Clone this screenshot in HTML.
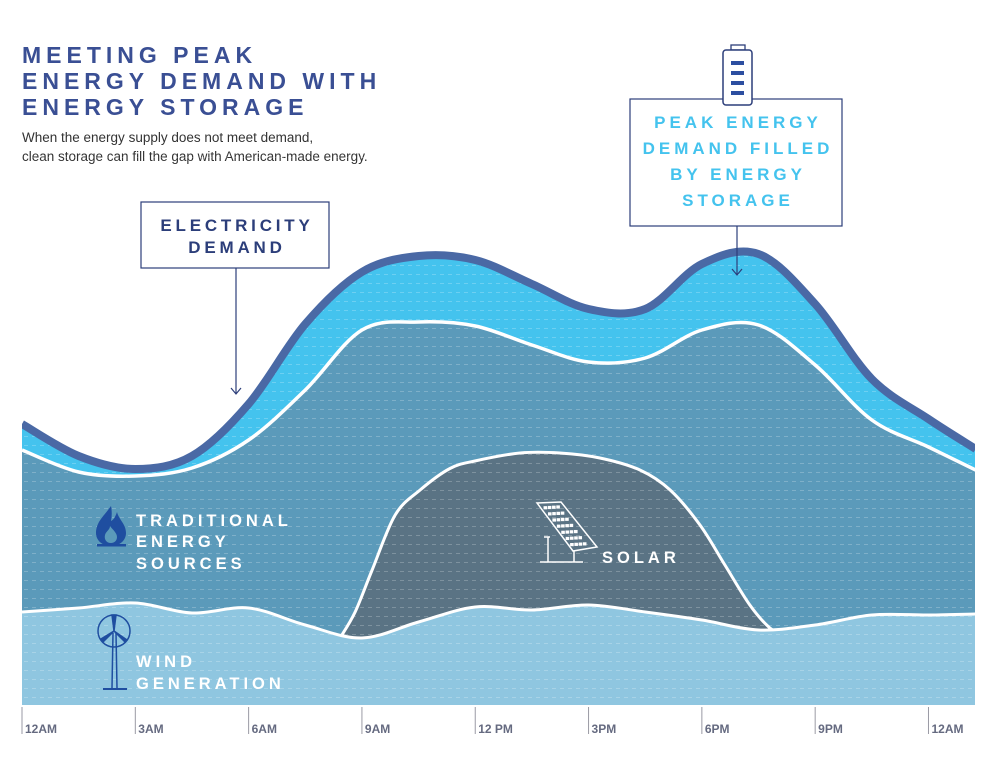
<!DOCTYPE html>
<html><head><meta charset="utf-8"><style>
body{margin:0;background:#fff;}
svg{display:block;font-family:"Liberation Sans",sans-serif;}
</style></head><body>
<svg id="chart" width="996" height="776" viewBox="0 0 996 776">
<defs>
<pattern id="dash" width="8" height="9" patternUnits="userSpaceOnUse">
<line x1="0" y1="4.5" x2="4" y2="4.5" stroke="#fff" stroke-opacity="0.22" stroke-width="1"/>
</pattern>
<clipPath id="plotclip"><rect x="22" y="150" width="953" height="555"/></clipPath>
</defs>
<g fill="#3a4f94" font-weight="bold" font-size="23" letter-spacing="5">
<text x="22" y="63">MEETING PEAK</text>
<text x="22" y="89">ENERGY DEMAND WITH</text>
<text x="22" y="115">ENERGY STORAGE</text>
</g>
<g fill="#333" font-size="13.5">
<text x="22" y="142">When the energy supply does not meet demand,</text>
<text x="22" y="161">clean storage can fill the gap with American-made energy.</text>
</g>
<g id="layers" clip-path="url(#plotclip)"></g>
<g id="axis"></g>
<g>
<rect x="141" y="202" width="188" height="66" fill="#fff" stroke="#2c3e7a" stroke-width="1.2"/>
<text x="237" y="231" text-anchor="middle" fill="#2c3e7a" font-weight="bold" font-size="17" letter-spacing="3.8">ELECTRICITY</text>
<text x="237" y="253" text-anchor="middle" fill="#2c3e7a" font-weight="bold" font-size="17" letter-spacing="3.8">DEMAND</text>
<line x1="236" y1="268" x2="236" y2="394" stroke="#2c3e7a" stroke-width="1.2"/>
<polyline points="231,388 236,394 241,388" fill="none" stroke="#2c3e7a" stroke-width="1.2"/>
</g>
<g>
<rect x="630" y="99" width="212" height="127" fill="#fff" stroke="#2c3e7a" stroke-width="1.2"/>
<g fill="#44c3ee" font-weight="bold" font-size="17" letter-spacing="4" text-anchor="middle">
<text x="738" y="128">PEAK ENERGY</text>
<text x="738" y="154">DEMAND FILLED</text>
<text x="738" y="180">BY ENERGY</text>
<text x="738" y="206">STORAGE</text>
</g>
<line x1="737" y1="226" x2="737" y2="275" stroke="#2c3e7a" stroke-width="1.2"/>
<polyline points="732,269 737,275 742,269" fill="none" stroke="#2c3e7a" stroke-width="1.2"/>
</g>
<g>
<rect x="731" y="45" width="14" height="5" fill="#fff" stroke="#2c3e7a" stroke-width="1.3"/>
<rect x="723" y="50" width="29" height="55" rx="3" fill="#fff" stroke="#2c3e7a" stroke-width="1.5"/>
<rect x="731" y="61" width="13" height="4" fill="#2c4ea0"/>
<rect x="731" y="71" width="13" height="4" fill="#2c4ea0"/>
<rect x="731" y="81" width="13" height="4" fill="#2c4ea0"/>
<rect x="731" y="91" width="13" height="4" fill="#2c4ea0"/>
</g>
<g>
<path d="M111,506 C104,516 96,522 96,533 C96,541 103,546 111,546 C119,546 126,541 126,533 C126,524 119,520 117,512 C115,518 113,520 111,521 C112,516 112,511 111,506 Z" fill="#1f4ea0"/>
<path d="M111,543 C106,543 104,539 105,535 C106,531 110,530 110,526 C113,530 117,533 117,537 C117,541 114,543 111,543 Z" fill="#5b9aba"/>
<rect x="97" y="544" width="29" height="2.5" fill="#1f4ea0"/>
</g>
<g stroke="#1f4ea0" fill="none" stroke-width="1.5">
<circle cx="114" cy="631" r="16"/>
<line x1="113" y1="633" x2="112" y2="688"/>
<line x1="116" y1="633" x2="117" y2="688"/>
<line x1="103" y1="689" x2="127" y2="689" stroke-width="2"/>
<path d="M114,631 L112,615 L116,615 Z" fill="#1f4ea0"/>
<path d="M114,631 L101,639 L103,642 Z" fill="#1f4ea0"/>
<path d="M114,631 L127,640 L125,642 Z" fill="#1f4ea0"/>
</g>
<g fill="#fff" font-weight="bold" font-size="16.5" letter-spacing="4">
<text x="136" y="526">TRADITIONAL</text>
<text x="136" y="547">ENERGY</text>
<text x="136" y="569">SOURCES</text>
<text x="136" y="667">WIND</text>
<text x="136" y="689">GENERATION</text>
<text x="602" y="563">SOLAR</text>
</g>
<g id="panel" stroke="#fff" fill="none" stroke-width="1.5">
<path d="M537,503 L561,502 L597,547 L573,551 Z"/>
<line x1="548" y1="537" x2="548" y2="562"/>
<line x1="574" y1="551" x2="574" y2="562"/>
<line x1="540" y1="562" x2="583" y2="562"/>
<line x1="544" y1="537" x2="550" y2="537"/>
</g>
</svg>
<script>
const hours = [0,1.5,3,4.5,6,7.5,9,10.5,12,13.5,15,16.5,18,19.5,21,22.5,24,25.25];
const wind = [18.6,19.4,20.4,18.4,19.4,16,13.4,16.6,19.6,19,20,18.6,17,15,16,18,18,18.2];
const traditional = [32.4,27.2,25.4,29,33.6,47,61.6,60,56.2,53,48.6,50.8,58,61,52,39,33.6,28.8];
const storage = [5.2,3.2,1.4,2.4,7.2,13.2,11.6,13.2,13.2,12.2,10.6,9.8,13.2,14.2,12.2,8.2,5.6,4.2];
const solarHours = [8.42,8.82,9.27,9.88,10.54,11.33,11.99,13.19,14.24,15.3,16.36,17.16,17.95,18.61,19.27,19.8,20.07];
const solarTop = [13.4,18.6,27,38,43,47.3,48.8,50.4,50.4,49.4,47,43,36,28,20,15.4,14.6];
const tickLabels = ["12AM","3AM","6AM","9AM","12  PM","3PM","6PM","9PM","12AM"];
const tickHours = [0,3,6,9,12,15,18,21,24];

const NS="http://www.w3.org/2000/svg";
const xs = h => 22 + h*37.77;
const ys = v => 705 - v*5;

function spline(pts){
  let d="M"+pts[0][0]+","+pts[0][1];
  for(let i=0;i<pts.length-1;i++){
    const p0=pts[Math.max(0,i-1)],p1=pts[i],p2=pts[i+1],p3=pts[Math.min(pts.length-1,i+2)];
    const c1x=p1[0]+(p2[0]-p0[0])/6,c1y=p1[1]+(p2[1]-p0[1])/6;
    const c2x=p2[0]-(p3[0]-p1[0])/6,c2y=p2[1]-(p3[1]-p1[1])/6;
    d+=" C"+c1x+","+c1y+" "+c2x+","+c2y+" "+p2[0]+","+p2[1];
  }
  return d;
}
const cum1 = wind.slice();
const cum3 = cum1.map((c,i)=>c+traditional[i]);
const cum4 = cum3.map((c,i)=>c+storage[i]);
const P = arr => hours.map((h,i)=>[xs(h),ys(arr[i])]);
const closeDown = (d,x0,x1) => d+" L"+x1+",705 L"+x0+",705 Z";
const X0=xs(hours[0]), X1=xs(hours[hours.length-1]);
const solPts = solarHours.map((h,i)=>[xs(h),ys(solarTop[i])]);

const layers=document.getElementById('layers');
function add(tag,attrs){const e=document.createElementNS(NS,tag);for(const k in attrs)e.setAttribute(k,attrs[k]);layers.appendChild(e);return e;}

let e;
e=add('path',{d:closeDown(spline(P(cum4)),X0,X1),fill:'#44c3ee'});


e=add('path',{d:closeDown(spline(P(cum3)),X0,X1),fill:'#5b9aba'});


e=add('path',{d:closeDown(spline(solPts),solPts[0][0],solPts[solPts.length-1][0]),fill:'#5a7384'});


e=add('path',{d:spline(solPts),fill:'none',stroke:'#fff','stroke-width':3});


e=add('path',{d:closeDown(spline(P(cum1)),X0,X1),fill:'#8fc6e0'});


e=add('rect',{x:22,y:150,width:953,height:555,fill:'url(#dash)'});


e=add('path',{d:spline(P(cum1)),fill:'none',stroke:'#fff','stroke-width':3});


e=add('path',{d:spline(P(cum3)),fill:'none',stroke:'#fff','stroke-width':3.5});


e=add('path',{d:spline(P(cum4)),fill:'none',stroke:'#4a69a5','stroke-width':8});



const panel=document.getElementById('panel');
for(let r=0;r<7;r++){for(let c=0;c<4;c++){
  const t=(r+0.5)/7, s=(c+0.5)/4;
  const cx=541+s*17+t*31, cy=505+t*43-s*1;
  const q=document.createElementNS(NS,'rect');
  q.setAttribute('x',cx-1.8);q.setAttribute('y',cy-1.8);q.setAttribute('width',3.6);q.setAttribute('height',3.2);
  q.setAttribute('fill','#fff');q.setAttribute('stroke','none');
  
  
  panel.appendChild(q);
}}

const axis=document.getElementById('axis');
tickHours.forEach((h,i)=>{
  const x=xs(h);
  const l=document.createElementNS(NS,'line');
  l.setAttribute('x1',x);l.setAttribute('x2',x);l.setAttribute('y1',707);l.setAttribute('y2',734);
  l.setAttribute('stroke','#9a9aa4');l.setAttribute('stroke-width','1');
  
  
  axis.appendChild(l);
  const t=document.createElementNS(NS,'text');
  t.setAttribute('x',x+3);t.setAttribute('y',733);
  t.setAttribute('fill','#656a80');t.setAttribute('font-size','12');t.setAttribute('font-weight','bold');
  t.textContent=tickLabels[i];
  
  
  axis.appendChild(t);
});
</script>
</body></html>
